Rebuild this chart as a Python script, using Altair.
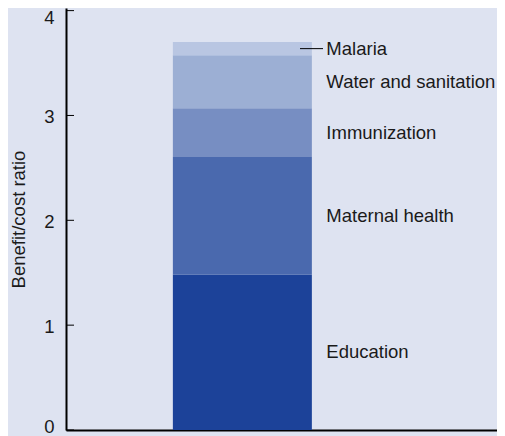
import altair as alt
import pandas as pd

categories = ["Education", "Maternal health", "Immunization", "Water and sanitation", "Malaria"]
values = [1.48, 1.125, 0.465, 0.505, 0.125]
colors = ["#1c4299", "#4a69ae", "#778ec2", "#9cafd4", "#b9c6e2"]
tick_values = [0, 1, 2, 3, 4]

df = pd.DataFrame({"category": categories, "value": values, "order": list(range(len(categories)))})
df["group"] = "Benefit"
df["top"] = df["value"].cumsum()
df["mid"] = df["top"] - df["value"] / 2
ticks_df = pd.DataFrame({"t": tick_values})
leader_df = df[df["category"] == "Malaria"]

FONT = "Liberation Sans"
TXT = "#1a1a1a"
ydom = [0, 4.025]

xenc = alt.X("group:N", scale=alt.Scale(paddingInner=0.048, paddingOuter=1, align=0.366),
             axis=alt.Axis(labels=False, ticks=False, title="", domainColor="black", domainWidth=2))
yscale = alt.Scale(domain=ydom, nice=False)

yaxis = alt.Axis(
    values=tick_values, format="d", tickSize=0, grid=False, domainColor="black", domainWidth=2,
    labelPadding=12, labelFontSize=18.5, labelFont=FONT, labelColor=TXT,
    labelOffset={"condition": [{"test": "datum.value == 4", "value": 7},
                               {"test": "datum.value == 0", "value": -4}],
                 "value": 1},
    title="Benefit/cost ratio", titleFont=FONT, titleFontSize=18.5, titleFontWeight="normal",
    titleColor=TXT, titlePadding=15,
)

bars = alt.Chart(df).mark_bar().encode(
    x=xenc,
    y=alt.Y("value:Q", stack="zero", scale=yscale, axis=yaxis),
    color=alt.Color("category:N", scale=alt.Scale(domain=categories, range=colors), legend=None),
    order=alt.Order("order:Q", sort="ascending"),
)

labels = alt.Chart(df).mark_text(align="left", baseline="middle", dx=84, font=FONT,
                                 fontSize=18.5, color=TXT).encode(
    x=alt.X("group:N"),
    y=alt.Y("mid:Q"),
    text="category:N",
)

tick_rules = alt.Chart(ticks_df).mark_rule(color="black", strokeWidth=1).encode(
    y=alt.Y("t:Q"),
    x=alt.value(0),
    x2=alt.value(8),
)

leader = alt.Chart(leader_df).mark_rule(color="black", strokeWidth=1).encode(
    y=alt.Y("mid:Q"),
    x=alt.value(234),
    x2=alt.value(257),
)

chart = alt.layer(bars, tick_rules, leader, labels).properties(
    width=431, height=422,
    autosize=alt.AutoSizeParams(type="none"),
    padding={"left": 58, "top": 0, "right": 0, "bottom": 6},
).configure(background="#dee3f1").configure_view(stroke="transparent", strokeWidth=0)

chart.save("out.html", embed_options={"renderer": "svg", "actions": False})
